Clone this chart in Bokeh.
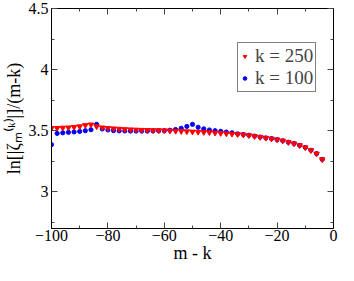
from bokeh.plotting import figure
from bokeh.models import (Range1d, FixedTicker, LinearAxis, Legend, LegendItem)
from bokeh.embed import file_html
from bokeh.resources import INLINE

mk = list(range(-100, -2, 2))

k100 = [3.386, 3.478, 3.483, 3.487, 3.490, 3.494, 3.500, 3.508, 3.552, 3.514,
        3.506, 3.501, 3.499, 3.498, 3.497, 3.497, 3.497, 3.497, 3.498, 3.499,
        3.500, 3.504, 3.510, 3.520, 3.535, 3.552, 3.528, 3.515, 3.506, 3.500,
        3.495, 3.489, 3.483, 3.474, 3.469, 3.463, 3.456, 3.448, 3.441, 3.435,
        3.427, 3.418, 3.406, 3.395, 3.380, 3.363, 3.340, 3.312, 3.265]

k250 = [3.522, 3.522, 3.524, 3.526, 3.530, 3.535, 3.545, 3.550, 3.535, 3.526,
        3.521, 3.518, 3.515, 3.512, 3.510, 3.508, 3.506, 3.505, 3.504, 3.503,
        3.502, 3.500, 3.498, 3.496, 3.494, 3.492, 3.490, 3.488, 3.486, 3.483,
        3.480, 3.477, 3.474, 3.471, 3.467, 3.462, 3.455, 3.448, 3.441, 3.435,
        3.427, 3.418, 3.406, 3.395, 3.380, 3.363, 3.340, 3.312, 3.265]

x_ticks = [-100, -80, -60, -40, -20, 0]
x_minor = [-90, -70, -50, -30, -10]
y_ticks = [3.0, 3.5, 4.0, 4.5]
y_minor = [2.75, 3.25, 3.75, 4.25]

FONT = "Liberation Serif"

p = figure(width=338, height=265, output_backend="svg", toolbar_location=None,
           x_range=Range1d(-100, 0), y_range=Range1d(2.7, 4.5),
           min_border_left=44, min_border_right=5, min_border_top=8,
           min_border_bottom=20)
p.grid.visible = False
p.outline_line_color = "black"
p.outline_line_width = 1
p.background_fill_color = "white"
p.border_fill_color = "white"

def style(ax, labels=True):
    ax.axis_line_color = "black"
    ax.major_tick_in = 6
    ax.major_tick_out = 0
    ax.minor_tick_in = 3
    ax.minor_tick_out = 0
    ax.major_tick_line_color = "#444444"
    ax.minor_tick_line_color = "#444444"
    ax.major_label_text_font = FONT
    ax.major_label_text_font_size = "16px"
    ax.major_label_text_color = "black" if labels else None
    ax.axis_label_text_font = FONT
    ax.axis_label_text_font_size = "18px"
    ax.axis_label_text_font_style = "normal"
    ax.axis_label_text_color = "black"

p.xaxis.ticker = FixedTicker(ticks=x_ticks, minor_ticks=x_minor)
p.yaxis.ticker = FixedTicker(ticks=y_ticks, minor_ticks=y_minor)
p.xaxis.axis_label = "m - k"
p.yaxis.axis_label = "ln[|ζₘ⁽ᵏ⁾|]/(m-k)"
p.xaxis.major_label_standoff = 1
p.yaxis.major_label_standoff = 3
p.xaxis.axis_label_standoff = -1
p.yaxis.axis_label_standoff = 2
p.yaxis.major_label_overrides = {3.0: "3", 3.5: "3.5", 4.0: "4", 4.5: "4.5"}
style(p.xaxis[0])
style(p.yaxis[0])

top = LinearAxis(ticker=FixedTicker(ticks=x_ticks, minor_ticks=x_minor))
right = LinearAxis(ticker=FixedTicker(ticks=y_ticks, minor_ticks=y_minor))
style(top, labels=False)
style(right, labels=False)
top.major_label_text_font_size = "0px"
right.major_label_text_font_size = "0px"
top.major_label_standoff = 0
right.major_label_standoff = 0
p.add_layout(top, "above")
p.add_layout(right, "right")

rb = p.scatter(mk, k100, marker="circle", size=4.2, color="#0000ff")
rr = p.scatter(mk, k250, marker="inverted_triangle", size=5.5, color="#ff0000")

legend = Legend(items=[LegendItem(label="k = 250", renderers=[rr]),
                       LegendItem(label="k = 100", renderers=[rb])],
                location=(186, 136))
legend.label_text_font = FONT
legend.label_text_font_size = "19px"
legend.label_height = 18
legend.glyph_width = 9
legend.glyph_height = 18
legend.label_standoff = 6
legend.spacing = 0
legend.padding = 2
legend.margin = 0
legend.border_line_color = "black"
legend.border_line_width = 1
legend.background_fill_alpha = 1
p.add_layout(legend, "center")

open("out.html", "w").write(file_html(p, INLINE))
